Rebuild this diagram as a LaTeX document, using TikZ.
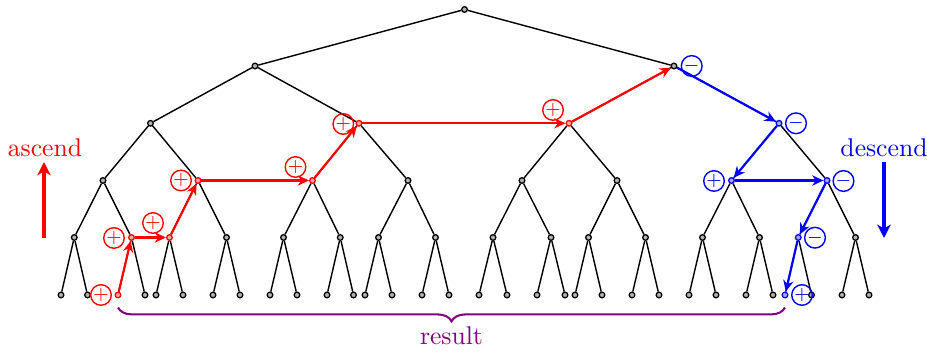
\documentclass[tikz,border=0pt]{standalone}
\usetikzlibrary{arrows.meta,decorations.pathreplacing}
\begin{document}
\begin{tikzpicture}[x=0.39pt,y=-0.39pt,
  dot/.style={circle,draw=black,fill=gray!60,inner sep=0pt,minimum size=2.2pt,line width=0.5pt},
  rdot/.style={dot,draw=red,fill=red!35},
  bdot/.style={dot,draw=blue,fill=blue!35},
  edge/.style={black,line width=0.55pt},
  rarr/.style={red,line width=0.85pt,-{Stealth[length=4.4pt,width=4pt,inset=1.4pt]}},
  barr/.style={rarr,blue},
  bigarr/.style={line width=1.2pt,-{Stealth[length=5.2pt,width=5.2pt,inset=1.5pt]}},
  sgn/.style={circle,draw,inner sep=0pt,minimum size=7.9pt,line width=0.55pt,font=\scriptsize},
  lbl/.style={anchor=base,inner sep=0pt}
]
\useasboundingbox (0,0) rectangle (927,354);
% leaves
\foreach \x/\s [count=\i] in {61/dot,87.5/dot,118/rdot,145/dot,156/dot,183/dot,213/dot,240/dot,
  270/dot,297/dot,327/dot,353.5/dot,365/dot,392/dot,422/dot,449/dot,
  479/dot,507/dot,537/dot,565/dot,575/dot,602/dot,632/dot,659/dot,
  689/dot,716/dot,746/dot,773/dot,785/bdot,811.5/dot,842/dot,869/dot}
  \node[\s] (l\i) at (\x,295) {};
% level 4
\foreach \x/\s [count=\i] in {74.25/dot,131.5/rdot,169.5/rdot,226.5/dot,283.5/dot,340.25/dot,378.5/dot,435.5/dot,
  493/dot,551/dot,588.5/dot,645.5/dot,702.5/dot,759.5/dot,798.25/bdot,855.5/dot}
  \node[\s] (d\i) at (\x,237.5) {};
% level 3
\foreach \x/\s [count=\i] in {103/dot,198/rdot,312.5/rdot,408/dot,522/dot,617/dot,731.5/bdot,827/bdot}
  \node[\s] (c\i) at (\x,180.5) {};
% level 2
\foreach \x/\s [count=\i] in {150.5/dot,359/rdot,569/rdot,779/bdot}
  \node[\s] (b\i) at (\x,123.3) {};
% level 1
\node[dot] (a1) at (255,66) {};
\node[dot] (a2) at (674,66) {};
\node[dot] (r) at (464.5,9.5) {};
% tree edges
\foreach \i in {1,...,16}{
  \pgfmathtruncatemacro\ja{2*\i-1}\pgfmathtruncatemacro\jb{2*\i}
  \draw[edge] (d\i) -- (l\ja); \draw[edge] (d\i) -- (l\jb);}
\foreach \i in {1,...,8}{
  \pgfmathtruncatemacro\ja{2*\i-1}\pgfmathtruncatemacro\jb{2*\i}
  \draw[edge] (c\i) -- (d\ja); \draw[edge] (c\i) -- (d\jb);}
\foreach \i in {1,...,4}{
  \pgfmathtruncatemacro\ja{2*\i-1}\pgfmathtruncatemacro\jb{2*\i}
  \draw[edge] (b\i) -- (c\ja); \draw[edge] (b\i) -- (c\jb);}
\draw[edge] (a1) -- (b1); \draw[edge] (a1) -- (b2);
\draw[edge] (a2) -- (b3); \draw[edge] (a2) -- (b4);
\draw[edge] (r) -- (a1); \draw[edge] (r) -- (a2);
% ascending path
\draw[rarr] (l3) -- (d2);
\draw[rarr] (d2) -- (d3);
\draw[rarr] (d3) -- (c2);
\draw[rarr] (c2) -- (c3);
\draw[rarr] (c3) -- (b2);
\draw[rarr] (b2) -- (b3);
\draw[rarr] (b3) -- (a2);
% descending path
\draw[barr] (a2) -- (b4);
\draw[barr] (b4) -- (c7);
\draw[barr] (c7) -- (c8);
\draw[barr] (c8) -- (d15);
\draw[barr] (d15) -- (l29);
% signs
\node[sgn,red] (p1) at (101,295) {$+$};
\node[sgn,red] (p2) at (114,238) {$+$};
\node[sgn,red] (p3) at (153,223) {$+$};
\node[sgn,red] (p4) at (181,180.5) {$+$};
\node[sgn,red] (p5) at (295.5,167) {$+$};
\node[sgn,red] (p6) at (343.3,124) {$+$};
\node[sgn,red] (p7) at (553,110) {$+$};
\node[sgn,blue] (m1) at (691.7,66) {$-$};
\node[sgn,blue] (m2) at (796,123.3) {$-$};
\node[sgn,blue] (p8) at (714,181) {$+$};
\node[sgn,blue] (m3) at (843.5,181) {$-$};
\node[sgn,blue] (m4) at (815,237.7) {$-$};
\node[sgn,blue] (p9) at (802,295) {$+$};
% ascend / descend
\node[lbl,red] (asc) at (45,156.7) {ascend};
\coordinate (ascbot) at (44,238);
\coordinate (asctop) at (44,162);
\draw[bigarr,red] (ascbot) -- (asctop);
\node[lbl,blue] (desc) at (884,156.7) {descend};
\coordinate (desctop) at (884,162);
\coordinate (descbot) at (884,238);
\draw[bigarr,blue] (desctop) -- (descbot);
% result brace
\coordinate (bl) at (118,307.5);
\coordinate (br) at (785,307.5);
\draw[violet,line width=0.8pt,decorate,decoration={brace,mirror,amplitude=5.4pt}] (bl) -- (br);
\node[lbl,violet] (res) at (451.5,345) {result};
\end{tikzpicture}
\end{document}
